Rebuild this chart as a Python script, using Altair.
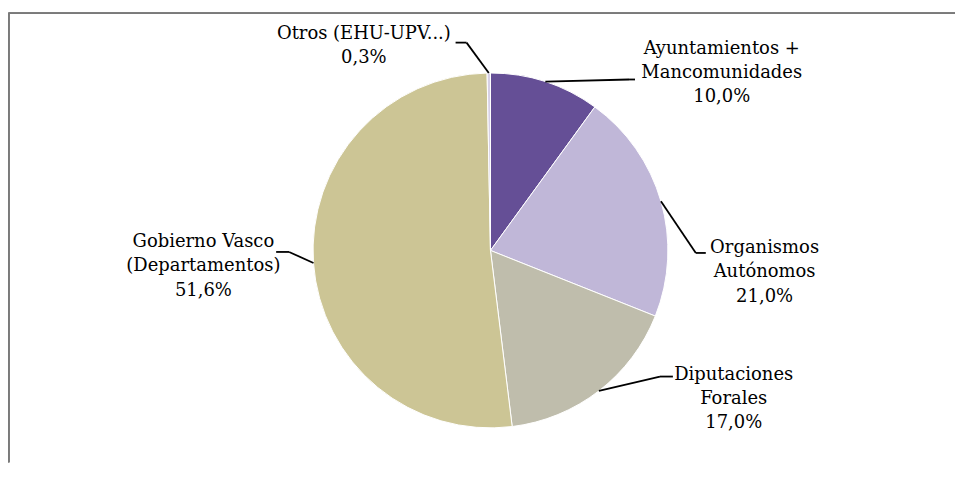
import math
import altair as alt
import pandas as pd

# ---- data ----
categories = [
    "Ayuntamientos +\nMancomunidades",
    "Organismos\nAutónomos",
    "Diputaciones\nForales",
    "Gobierno Vasco\n(Departamentos)",
    "Otros (EHU-UPV...)",
]
values = [10.0, 21.0, 17.0, 51.6, 0.3]
colors = ["#654F96", "#C0B7D8", "#BFBDAC", "#CCC595", "#D6D0E6"]

# ---- layout (chart pixel coords; page = chart + 8) ----
W, H = 950, 455
CX, CY, R = 484, 242.5, 178
label_anchor = [(716, 45), (759, 245), (728, 372), (196, 239), (357, 30)]   # centre x, first baseline
leader_elbow = [(623, 71), (690, 245), (654, 369), (282, 244), (460, 34)]
leader_end = [(629, 71), (700, 245), (667, 369), (269, 244), (449, 34)]

total = sum(values)
pct = [f"{v:.1f}".replace(".", ",") + "%" for v in values]

pie_df = pd.DataFrame({"name": categories, "value": values, "idx": list(range(len(values)))})

lab_rows, seg_rows = [], []
cum = 0.0
for i, v in enumerate(values):
    mid = (cum + v / 2) / total * 2 * math.pi
    cum += v
    sx = CX + R * math.sin(mid)
    sy = CY - R * math.cos(mid)
    ex, ey = leader_elbow[i]
    fx, fy = leader_end[i]
    seg_rows.append({"x": sx, "y": sy, "x2": ex, "y2": ey})
    seg_rows.append({"x": ex, "y": ey, "x2": fx, "y2": fy})
    ax, ay = label_anchor[i]
    lab_rows.append({"x": ax, "y": ay, "text": categories[i] + "\n" + pct[i]})

lab_df = pd.DataFrame(lab_rows)
seg_df = pd.DataFrame(seg_rows)

pie = alt.Chart(pie_df).mark_arc(radius=R, stroke="white", strokeWidth=1).encode(
    theta=alt.Theta("value:Q", stack=True),
    color=alt.Color("name:N", scale=alt.Scale(domain=categories, range=colors), legend=None),
    order=alt.Order("idx:Q"),
    x=alt.value(CX),
    y=alt.value(CY),
)

leaders = alt.Chart(seg_df).mark_rule(color="black", strokeWidth=1.8).encode(
    x=alt.X("x:Q", scale=None),
    y=alt.Y("y:Q", scale=None),
    x2="x2:Q",
    y2="y2:Q",
)

labels = alt.Chart(lab_df).mark_text(
    font="DejaVu Serif", fontSize=18, color="#000000", align="center",
    baseline="alphabetic", lineBreak="\n", lineHeight=24.5,
).encode(
    x=alt.X("x:Q", scale=None),
    y=alt.Y("y:Q", scale=None),
    text="text:N",
)

frame_top = alt.Chart(pie_df).mark_rule(color="#7a7a7a", strokeWidth=1.5).encode(
    x=alt.value(0.5), x2=alt.value(W), y=alt.value(4.5)
)
frame_left = alt.Chart(pie_df).mark_rule(color="#7a7a7a", strokeWidth=1.5).encode(
    x=alt.value(0.75), y=alt.value(4.5), y2=alt.value(H)
)

chart = alt.layer(frame_top, frame_left, pie, leaders, labels).properties(
    width=W, height=H, autosize=alt.AutoSizeParams(type="none"), padding=0,
).configure_view(stroke=None)

chart.save("out.html", embed_options={"renderer": "svg", "actions": False})
